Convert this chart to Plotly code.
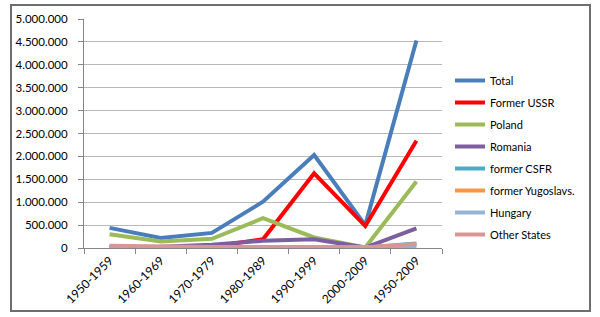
import plotly.graph_objects as go

categories = ["1950-1959", "1960-1969", "1970-1979", "1980-1989", "1990-1999", "2000-2009", "1950-2009"]

total = [440000, 220000, 330000, 1010000, 2030000, 500000, 4530000]
former_ussr = [10000, 10000, 30000, 190000, 1630000, 480000, 2340000]
poland = [300000, 140000, 200000, 650000, 230000, 10000, 1450000]
romania = [20000, 30000, 70000, 160000, 190000, 10000, 430000]
former_csfr = [10000, 10000, 10000, 10000, 10000, 10000, 100000]
former_yugoslavs = [10000, 10000, 10000, 10000, 10000, 10000, 70000]
hungary = [5000, 5000, 5000, 5000, 5000, 5000, 20000]
other_states = [50000, 30000, 20000, 20000, 20000, 10000, 90000]

series_names = ["Total", "Former USSR", "Poland", "Romania", "former CSFR",
                "former Yugoslavs.", "Hungary", "Other States"]
series_values = [total, former_ussr, poland, romania, former_csfr,
                 former_yugoslavs, hungary, other_states]
series_colors = ["#4A7EBB", "#FF0000", "#9BBB59", "#7D5FA0", "#4BACC6",
                 "#F79646", "#95B3D7", "#D99694"]

fig = go.Figure()
for i, (name, vals, col) in enumerate(zip(series_names, series_values, series_colors)):
    fig.add_trace(go.Scatter(
        x=categories, y=vals, name=name, mode="lines",
        line=dict(color=col, width=4),
        legendgroup=f"g{i}",
    ))

W, H = 600, 317
ml, mr, mt, mb = 84, 158, 19, 69
pw, ph = W - ml - mr, H - mt - mb

def px(x):
    return (x - ml) / pw

def py(y):
    return (H - mb - y) / ph

fig.update_layout(
    width=W, height=H,
    margin=dict(l=ml, r=mr, t=mt, b=mb, pad=0, autoexpand=False),
    paper_bgcolor="white", plot_bgcolor="white",
    separators=",.",
    font=dict(family="Lato, Liberation Sans, sans-serif", size=11, color="#000000"),
    showlegend=True,
    legend=dict(
        x=px(450), y=py(66), xanchor="left", yanchor="top",
        font=dict(size=11), itemwidth=30, traceorder="grouped",
        tracegroupgap=3, bgcolor="rgba(0,0,0,0)",
    ),
    xaxis=dict(
        type="category", tickangle=-45, showgrid=False, automargin=False,
        showline=True, linecolor="#868686", linewidth=1,
        ticks="outside", ticklen=5, tickcolor="#868686",
        tickson="boundaries", range=[-0.5, 6.5], fixedrange=True,
        tickfont=dict(size=12),
    ),
    yaxis=dict(
        range=[0, 5000000], dtick=500000, tickformat=",d", automargin=False,
        showgrid=True, gridcolor="#B8B8B8", gridwidth=1,
        showline=True, linecolor="#868686", linewidth=1,
        ticks="outside", ticklen=5, tickcolor="#868686",
        zeroline=False, tickfont=dict(size=11.5), ticklabelstandoff=8,
    ),
    shapes=[dict(
        type="rect", xref="paper", yref="paper",
        x0=px(11), x1=px(590), y0=py(311), y1=py(5),
        line=dict(color="#6E6E6E", width=2), fillcolor="rgba(0,0,0,0)",
    )],
)

fig.write_html(
    "out.html",
    config={"displayModeBar": False},
    post_script="document.body.style.margin='0';document.body.style.overflow='hidden';",
)
